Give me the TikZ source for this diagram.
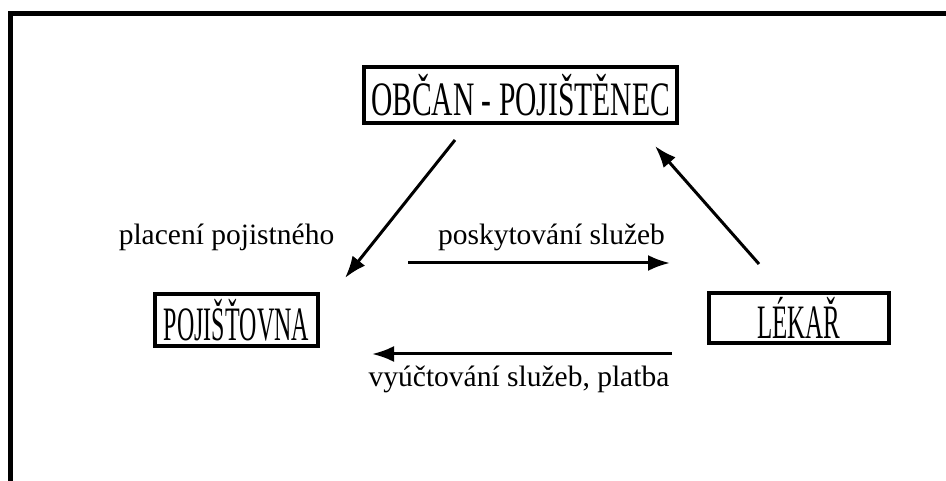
\documentclass[tikz,border=0pt]{standalone}
\usepackage{fontspec}
\setmainfont{Liberation Serif}
\usepackage{graphicx}
\usetikzlibrary{arrows.meta}
\tikzset{
party/.style={
	draw, line width=3.5pt, inner sep=0pt,
	font=\fontsize{48}{52}\selectfont},
flow/.style={line width=3pt, -{Latex[length=22pt,width=16pt]}},
flowtext/.style={anchor=base, inner sep=0pt, font=\fontsize{29.5}{32}\selectfont}
}
\newcommand{\narrow}[2]{\scalebox{#1}[1]{#2}}

\begin{document}
\begin{tikzpicture}[x=1pt, y=-1pt]
	\useasboundingbox (0,0) rectangle (946,481);
	% page frame, cut off
	\draw[line width=5.5pt] (10.5,481) -- (10.5,13.5) -- (946,13.5);
	% the three parties
	\node[party, minimum width=313pt, minimum height=56pt] (obcan) at (520.5,95) {\narrow{0.615}{OBČAN - POJIŠTĚNEC}};
	\node[party, minimum width=163pt, minimum height=52pt] (pojistovna) at (236.5,320) {\narrow{0.5}{POJIŠŤOVNA}};
	\node[party, minimum width=180pt, minimum height=50pt] (lekar) at (799,318) {\narrow{0.52}{LÉKAŘ}};
	% flows
	\node[flowtext] (placeni) at (226.5,245) {placení pojistného};
	\node[flowtext] (poskytovani) at (551.5,245) {poskytování služeb};
	\node[flowtext] (vyuctovani) at (519,386) {vyúčtování služeb, platba};
	\coordinate (placeni from) at (455,140);
	\coordinate (placeni to) at (345,278);
	\coordinate (lekar from) at (759,264);
	\coordinate (lekar to) at (655,146);
	\coordinate (sluzby from) at (408,263);
	\coordinate (sluzby to) at (670,263);
	\coordinate (platba from) at (672,354);
	\coordinate (platba to) at (372,354);
	\draw[flow] (placeni from) -- (placeni to);
	\draw[flow] (lekar from) -- (lekar to);
	\draw[flow] (sluzby from) -- (sluzby to);
	\draw[flow] (platba from) -- (platba to);
\end{tikzpicture}
\end{document}
